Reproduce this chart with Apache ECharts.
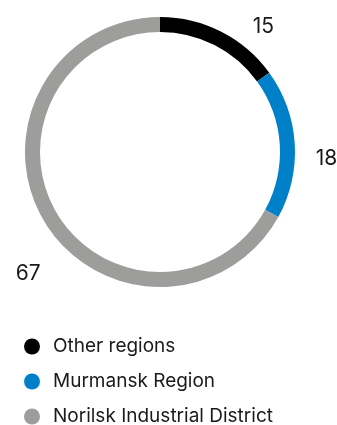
<!DOCTYPE html>
<html>
<head>
<meta charset="utf-8">
<script src="https://cdn.jsdelivr.net/npm/echarts@6/dist/echarts.min.js"></script>
<style>html,body{margin:0;padding:0;background:#fff;}#c{width:337px;height:425px;}</style>
</head>
<body>
<div id="c"></div>
<script>
const categories = ['Other regions', 'Murmansk Region', 'Norilsk Industrial District'];
const values = [15, 18, 67];
const colors = ['#000000', '#0080c9', '#9d9d9c'];
// label nudges relative to the library's outside label placement
const labelShiftX = [20, 2, 14];
const labelShiftY = [7, 16, 46];

const chart = echarts.init(document.getElementById('c'), null, {renderer: 'canvas'});
chart.setOption({
  animation: false,
  legend: {
    orient: 'vertical',
    left: 19,
    top: 332,
    height: 100,
    icon: 'circle',
    itemWidth: 16,
    itemHeight: 16,
    itemGap: 16,
    textStyle: {fontFamily: 'Inter', fontSize: 19, color: '#1a1a1a', padding: [0, 0, 0, 8]},
    data: categories
  },
  series: [{
    type: 'pie',
    center: [160, 152],
    radius: [120, 135],
    startAngle: 90,
    clockwise: true,
    silent: true,
    label: {
      show: true,
      position: 'outside',
      formatter: '{c}',
      fontFamily: 'Inter',
      fontSize: 21,
      color: '#1a1a1a',
      overflow: 'none'
    },
    labelLine: {show: false, length: 14, length2: 0},
    labelLayout: function (p) {
      return {dx: labelShiftX[p.dataIndex], dy: labelShiftY[p.dataIndex]};
    },
    data: categories.map((n, i) => ({name: n, value: values[i], itemStyle: {color: colors[i]}}))
  }]
});
</script>
</body>
</html>
